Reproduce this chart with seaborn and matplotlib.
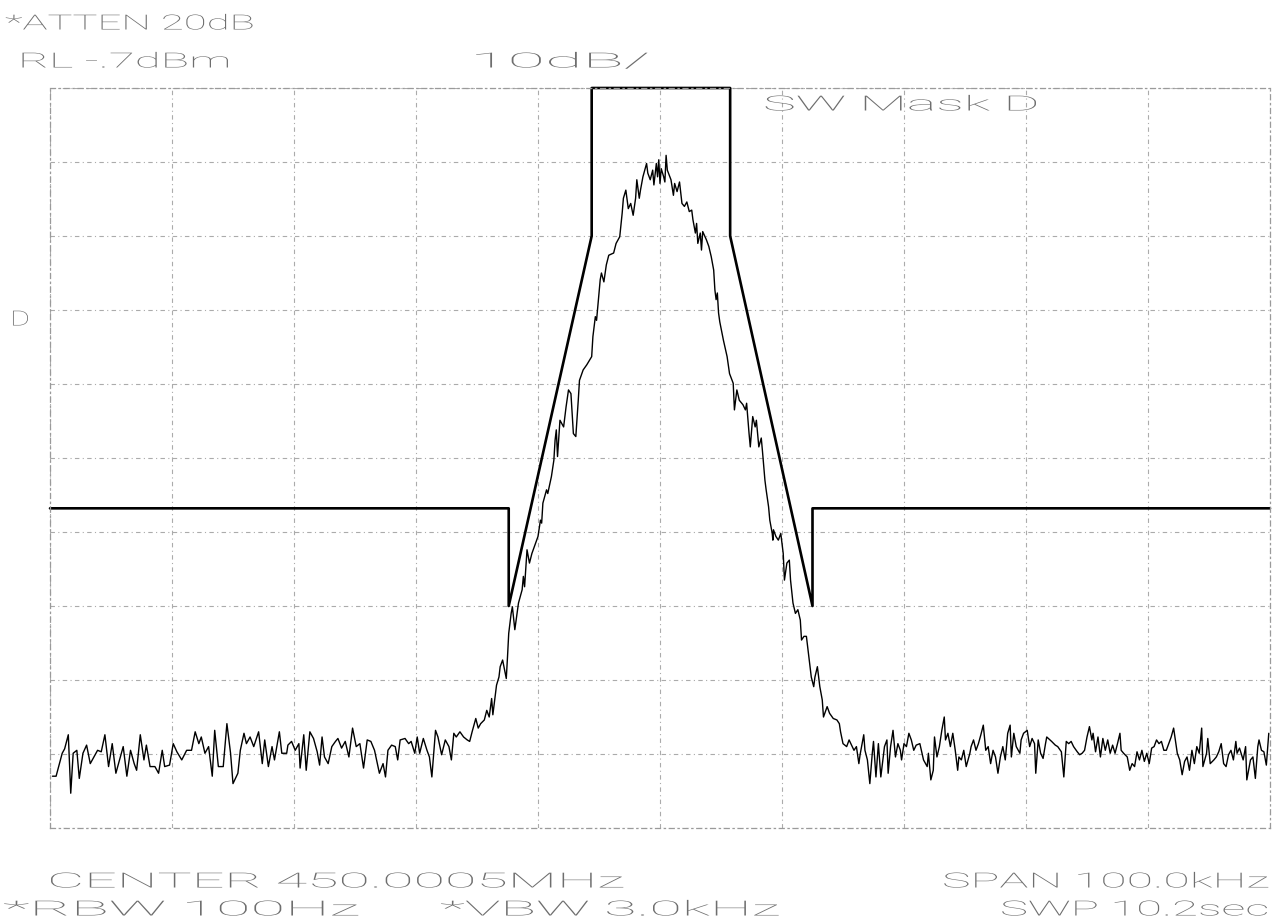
"""
Spectrum analyser plot-out: SW Mask D with the measured trace on top.
"""

import numpy as np
import pandas as pd
import matplotlib
matplotlib.use("Agg")
import matplotlib.pyplot as plt
from matplotlib.patheffects import AbstractPathEffect
from matplotlib.transforms import Affine2D
import seaborn as sns

W, H, DPI = 1274, 922, 100

# ──────────────────────────────────────────────
# Instrument settings
# ──────────────────────────────────────────────
ref_level = -0.7      # dBm, top of screen
db_per_div = 10
n_div = 10
span_khz = 100.0

# ──────────────────────────────────────────────
# Mask (offset kHz, dBm)
# ──────────────────────────────────────────────
mask_khz = [-50, -12.4, -12.4, -5.6, -5.6, 5.75, 5.75, 12.5, 12.5, 50]
mask_db = [-57.5, -57.5, -70.7, -20.7, -0.7, -0.7, -20.7, -70.7, -57.5, -57.5]

# ──────────────────────────────────────────────
# Trace, (offset kHz, dBm)
# ──────────────────────────────────────────────
floor_left = [
    (-49.8, -93.7), (-49.5, -93.7), (-49.0, -90.6), (-48.8, -90.0), (-48.5, -88.1),
    (-48.3, -96.0), (-48.1, -90.6), (-47.8, -90.2), (-47.6, -94.0), (-47.3, -90.6),
    (-47.0, -89.5), (-46.7, -92.0), (-46.4, -91.1), (-46.1, -90.2), (-45.8, -90.4),
    (-45.5, -88.1), (-45.2, -92.4), (-44.9, -89.3), (-44.6, -93.3), (-44.3, -91.5),
    (-44.0, -89.7), (-43.7, -93.7), (-43.4, -90.2), (-43.1, -92.0), (-42.9, -92.9),
    (-42.6, -88.1), (-42.3, -91.5), (-42.1, -89.5), (-41.8, -92.4), (-41.4, -92.4),
    (-41.1, -93.3), (-40.8, -90.2), (-40.6, -92.4), (-40.2, -92.2), (-39.9, -89.3),
    (-39.6, -90.4), (-39.2, -91.5), (-38.8, -90.2), (-38.4, -90.2), (-38.1, -87.7),
    (-37.8, -89.3), (-37.6, -88.4), (-37.3, -90.6), (-37.0, -89.7), (-36.7, -93.7),
    (-36.5, -87.5), (-36.2, -92.4), (-35.8, -92.4), (-35.5, -86.6), (-35.2, -90.6),
    (-35.0, -94.7), (-34.6, -93.3), (-34.4, -90.2), (-34.1, -87.9), (-33.9, -89.3),
    (-33.6, -88.4), (-33.3, -89.7), (-32.9, -87.7), (-32.6, -92.0), (-32.4, -88.8),
    (-32.1, -92.4), (-31.8, -89.7), (-31.6, -91.5), (-31.2, -87.7), (-31.0, -90.6),
    (-30.6, -90.6),
]
rise_left = [
    (-30.5, -89.5), (-30.2, -89.0), (-29.9, -90.2), (-29.6, -89.3), (-29.5, -92.6),
    (-29.2, -88.1), (-29.0, -92.9), (-28.7, -87.7), (-28.4, -88.6), (-28.1, -90.4),
    (-27.9, -92.2), (-27.7, -88.4), (-27.5, -91.1), (-27.2, -92.0), (-26.9, -89.7),
    (-26.6, -89.0), (-26.4, -88.6), (-26.1, -89.9), (-25.8, -89.0), (-25.5, -91.1),
    (-25.2, -87.2), (-24.9, -89.7), (-24.6, -89.3), (-24.3, -92.6), (-24.0, -88.8),
    (-23.7, -89.0), (-23.4, -90.2), (-23.0, -93.3), (-22.7, -92.0), (-22.5, -93.8),
    (-22.3, -90.2), (-22.0, -89.5), (-21.7, -89.7), (-21.5, -91.5), (-21.3, -88.8),
    (-20.9, -88.6), (-20.6, -89.3), (-20.4, -89.0), (-20.1, -90.6), (-19.9, -88.4),
    (-19.7, -90.6), (-19.4, -88.6), (-19.1, -90.2), (-18.9, -91.1), (-18.7, -93.8),
    (-18.4, -87.5), (-18.2, -88.4), (-17.9, -90.8), (-17.6, -88.8), (-17.3, -89.7),
    (-17.1, -91.5), (-16.9, -87.9), (-16.7, -88.4), (-16.4, -87.7), (-16.1, -88.4),
    (-15.8, -88.8), (-15.6, -89.0), (-15.4, -87.7), (-15.1, -85.9), (-14.9, -87.2),
    (-14.7, -86.6), (-14.4, -86.1), (-14.2, -84.8), (-14.0, -85.7), (-13.8, -83.2),
    (-13.7, -85.4), (-13.4, -81.4), (-13.2, -80.3), (-13.1, -78.9), (-12.9, -78.0),
    (-12.6, -80.5),
]
skirt_left = [
    (-12.5, -77.6), (-12.4, -74.4), (-12.2, -71.7), (-12.1, -70.8), (-11.9, -73.9),
    (-11.6, -70.3), (-11.3, -68.5), (-11.2, -66.7), (-11.1, -68.1), (-10.9, -63.1),
    (-10.7, -64.9), (-10.5, -63.6), (-10.2, -62.2), (-10.0, -61.3), (-9.8, -59.1),
    (-9.7, -59.5), (-9.6, -56.8), (-9.3, -55.0), (-9.2, -55.5), (-8.9, -53.2),
    (-8.7, -51.0), (-8.6, -48.3), (-8.5, -46.9), (-8.4, -50.5), (-8.2, -45.6),
    (-7.9, -46.5), (-7.7, -43.8), (-7.5, -41.5), (-7.3, -42.0), (-7.1, -47.4),
    (-6.9, -47.8), (-6.7, -42.9), (-6.6, -40.2),
]
peak = [
    (-6.3, -38.8), (-6.0, -38.1), (-5.6, -37.0), (-5.5, -34.3), (-5.3, -31.6),
    (-5.2, -32.1), (-5.1, -30.3), (-4.9, -26.6), (-4.8, -25.7), (-4.6, -26.9),
    (-4.4, -24.6), (-4.2, -23.3), (-3.8, -23.0), (-3.6, -21.7), (-3.3, -20.8),
    (-3.1, -17.6), (-3.0, -15.6), (-2.8, -14.5), (-2.6, -17.0), (-2.4, -16.3),
    (-2.2, -17.9), (-2.0, -15.6), (-1.9, -13.1), (-1.7, -15.6), (-1.6, -14.5),
    (-1.4, -12.7), (-1.1, -10.9), (-1.0, -12.2), (-0.8, -13.1), (-0.6, -11.8),
    (-0.5, -13.8), (-0.3, -10.9), (-0.2, -12.7), (-0.1, -10.4), (0.0, -13.6),
    (0.1, -11.6), (0.3, -12.7), (0.4, -13.4), (0.5, -9.8), (0.6, -11.8),
    (0.9, -13.1), (1.1, -15.2), (1.2, -13.6), (1.4, -14.7), (1.6, -13.4),
    (1.8, -16.3), (2.0, -16.7), (2.2, -16.1), (2.4, -17.4), (2.6, -17.2),
    (2.7, -18.5), (2.9, -20.3), (3.0, -19.0), (3.1, -21.7), (3.3, -20.3),
    (3.4, -22.6), (3.5, -20.1), (3.8, -21.2), (4.0, -22.1), (4.2, -23.5),
    (4.4, -25.3), (4.5, -28.0), (4.6, -29.3), (4.7, -28.4), (4.8, -31.1),
    (4.9, -32.3), (5.2, -34.8), (5.5, -37.0), (5.7, -39.3), (6.0, -40.6),
]
skirt_right = [
    (6.1, -44.2), (6.3, -41.5), (6.5, -42.9), (6.8, -43.5), (7.0, -44.2),
    (7.1, -43.3), (7.3, -47.4), (7.4, -49.2), (7.6, -45.1), (7.8, -46.5),
    (7.9, -45.6), (8.1, -49.2), (8.3, -48.0), (8.4, -49.8), (8.6, -53.7),
    (8.7, -55.0), (8.9, -57.3), (9.0, -59.1), (9.2, -60.9), (9.25, -61.8),
    (9.3, -60.4), (9.5, -61.3), (9.7, -61.8), (9.9, -60.9), (10.1, -63.6),
    (10.2, -67.2), (10.4, -64.9), (10.6, -64.5), (10.7, -67.2), (10.9, -70.3),
    (11.1, -71.7), (11.3, -71.2), (11.5, -72.6), (11.6, -75.3), (11.8, -74.8),
    (12.0, -74.8), (12.2, -77.5), (12.4, -80.3), (12.6, -81.6), (12.7, -80.3),
    (12.9, -78.9), (13.1, -81.6), (13.3, -83.4), (13.4, -85.7), (13.7, -84.3),
    (13.9, -85.2), (14.2, -85.9),
]
floor_right = [
    (14.5, -86.1), (14.7, -86.6), (14.8, -87.7), (15.0, -89.3), (15.3, -89.7),
    (15.5, -88.8), (15.7, -89.5), (15.9, -90.2), (16.1, -89.7), (16.3, -92.0),
    (16.4, -90.8), (16.7, -88.1), (16.8, -90.2), (17.0, -91.5), (17.2, -94.7),
    (17.4, -90.6), (17.5, -89.0), (17.7, -93.8), (17.9, -89.3), (18.1, -93.8),
    (18.3, -91.1), (18.4, -89.7), (18.6, -88.8), (18.7, -93.3), (18.9, -89.7),
    (19.1, -87.5), (19.3, -91.1), (19.5, -89.3), (19.7, -90.2), (19.8, -91.5),
    (20.0, -89.3), (20.2, -89.7), (20.4, -87.9), (20.6, -88.8), (20.8, -90.2),
    (21.0, -89.5), (21.3, -89.3), (21.5, -90.8), (21.6, -91.5), (21.9, -92.4),
    (22.0, -90.6), (22.2, -94.2), (22.4, -92.9), (22.5, -88.4), (22.7, -91.1),
    (22.9, -89.7), (23.1, -87.5), (23.3, -85.7), (23.4, -88.8), (23.6, -87.9),
    (23.8, -89.7), (24.0, -87.9), (24.2, -90.2), (24.4, -92.9), (24.5, -91.1),
    (24.7, -91.5), (24.9, -90.2), (25.1, -92.4), (25.4, -90.6), (25.5, -89.7),
    (25.7, -88.8), (25.9, -90.2), (26.1, -89.3), (26.3, -88.1), (26.5, -86.8),
    (26.7, -90.2), (26.9, -89.7), (27.1, -92.0), (27.3, -90.2), (27.5, -91.1),
    (27.7, -93.3), (27.9, -91.1), (28.1, -89.7), (28.3, -91.5), (28.5, -87.9),
    (28.7, -86.8), (28.8, -91.1), (29.0, -87.9), (29.2, -89.7), (29.5, -90.6),
    (29.6, -88.8), (29.8, -87.9), (30.1, -87.5), (30.3, -89.7), (30.5, -88.6),
    (30.7, -89.3), (30.8, -93.3), (31.0, -88.8), (31.2, -90.6), (31.4, -91.3),
    (31.6, -89.3), (31.7, -88.4),
    (32.1, -89.0), (32.4, -89.5), (32.6, -89.7), (32.9, -90.4), (33.1, -93.8),
    (33.3, -89.0), (33.5, -89.3), (33.7, -89.0), (33.9, -89.7), (34.2, -90.4),
    (34.4, -90.8), (34.6, -90.6), (34.8, -90.2), (35.0, -88.4), (35.2, -87.0),
    (35.4, -88.8), (35.5, -87.9), (35.7, -90.4), (35.9, -88.4), (36.1, -91.1),
    (36.3, -88.6), (36.5, -90.2), (36.7, -88.8), (36.9, -90.6), (37.1, -89.5),
    (37.3, -90.6), (37.5, -89.3), (37.7, -87.9), (37.8, -90.2), (38.0, -90.6),
    (38.3, -91.1), (38.5, -92.9), (38.7, -92.0), (38.9, -92.4), (39.1, -90.4),
    (39.3, -91.5), (39.5, -90.2), (39.7, -91.7), (39.9, -90.6), (40.1, -92.0),
    (40.3, -89.9), (40.5, -89.7), (40.7, -88.8), (40.9, -89.3), (41.1, -89.0),
    (41.3, -90.2), (41.5, -90.2), (41.7, -89.3), (41.9, -88.4), (42.1, -87.2),
    (42.4, -90.6), (42.6, -91.5), (42.8, -93.5), (43.0, -91.7), (43.2, -91.1),
    (43.4, -92.9), (43.6, -90.2), (43.8, -92.0), (44.0, -89.7), (44.2, -90.6),
    (44.4, -87.2), (44.5, -92.4), (44.8, -90.6), (44.9, -88.6), (45.1, -92.0),
    (45.4, -91.5), (45.6, -91.1), (45.8, -90.4), (46.0, -89.3), (46.2, -92.0),
    (46.4, -92.4), (46.6, -90.8), (46.8, -90.2), (47.0, -91.5), (47.2, -89.0),
    (47.3, -90.6), (47.5, -89.9), (47.8, -91.5), (48.0, -89.7), (48.1, -94.2),
    (48.4, -91.5), (48.6, -91.1), (48.8, -94.0), (49.0, -89.7), (49.1, -88.8),
    (49.3, -90.2), (49.5, -90.4), (49.7, -92.2), (49.9, -87.9),
]

# annotation strings
header_1 = "*ATTEN 20dB"
header_2 = "RL -.7dBm"
header_scale = "10dB/"
mask_label = "SW Mask D"
marker_label = "D"
footer = ["CENTER 450.0005MHz", "SPAN 100.0kHz", "*RBW 100Hz", "*VBW 3.0kHz", "SWP 10.2sec"]


class HStretch(AbstractPathEffect):
    """Widen text horizontally from its left edge, like the plotter's wide pitch."""

    def __init__(self, sx):
        super().__init__()
        self.sx = sx

    def draw_path(self, renderer, gc, tpath, affine, rgbFace=None):
        x0 = affine.get_matrix()[0, 2]
        stretch = Affine2D().translate(-x0, 0).scale(self.sx, 1).translate(x0, 0)
        renderer.draw_path(gc, tpath, affine + stretch, rgbFace)


sns.set_theme(style="white")
plt.rcParams["font.family"] = ["Roboto", "DejaVu Sans"]

trace = pd.DataFrame(floor_left + rise_left + skirt_left + peak + skirt_right + floor_right,
                     columns=["khz", "db"])
mask = pd.DataFrame({"khz": mask_khz, "db": mask_db})

fig = plt.figure(figsize=(W / DPI, H / DPI), dpi=DPI)
fig.patch.set_facecolor("white")
ax = fig.add_axes([50 / W, 1 - 828 / H, 1220 / W, 740 / H])
ax.set_facecolor("white")

half = span_khz / 2
bottom = ref_level - n_div * db_per_div
ax.set_xlim(-half, half)
ax.set_ylim(bottom, ref_level)
ax.set_xticks(np.linspace(-half, half, n_div + 1))
ax.set_yticks(np.linspace(bottom, ref_level, n_div + 1))
ax.tick_params(length=0, labelbottom=False, labelleft=False)
grid_ls = (0, (4, 3, 1, 3))
ax.grid(True, color="#ababab", lw=0.8, ls=grid_ls)
for sp in ax.spines.values():
    sp.set_color("#9a9a9a")
    sp.set_linewidth(0.9)
    sp.set_linestyle(grid_ls)

sns.lineplot(data=trace, x="khz", y="db", sort=False, estimator=None,
             color="black", lw=1.0, ax=ax)
sns.lineplot(data=mask, x="khz", y="db", sort=False, estimator=None,
             color="black", lw=1.9, ax=ax, clip_on=False)
ax.set_xlabel("")
ax.set_ylabel("")

# text rows: string, left px, right px, centre y px
text_rows = [
    (header_1, 5, 255, 24),
    (header_2, 18, 232, 62),
    (header_scale, 470, 650, 62),
    (mask_label, 763, 1040, 105),
    (marker_label, 10, 30, 320),
    (footer[0], 47, 625, 882),
    (footer[1], 942, 1270, 882),
    (footer[2], 3, 360, 910),
    (footer[3], 440, 780, 910),
    (footer[4], 1000, 1270, 910),
]
placed = []
for s, x0, x1, yc in text_rows:
    t = fig.text(x0 / W, 1 - yc / H, s, ha="left", va="center",
                 fontsize=15, fontweight="light", color="#6e6e6e")
    placed.append((t, x1 - x0))

fig.canvas.draw()
for t, width in placed:
    natural = t.get_window_extent().width
    t.set_path_effects([HStretch(width / natural)])

fig.savefig("out.png", dpi=DPI, facecolor="white")
